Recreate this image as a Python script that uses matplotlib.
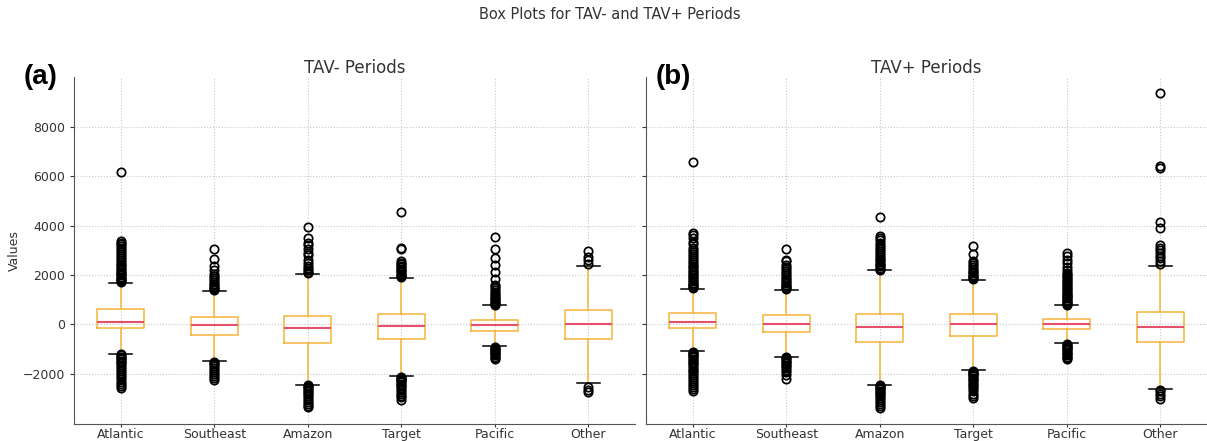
import matplotlib.pyplot as plt

# regions shown on the x axis
regions = ["Atlantic", "Southeast", "Amazon", "Target", "Pacific", "Other"]

# ---- TAV- periods: quartiles, medians, whisker ends ----
neg_q1 = [-134, -430, -766, -605, -269, -605]
neg_med = [108, -27, -134, -81, -40, 0]
neg_q3 = [604, 295, 349, 415, 161, 591]
neg_whislo = [-1182, -1478, -2432, -2083, -874, -2379]
neg_whishi = [1665, 1343, 2042, 1882, 766, 2352]

# outliers per region (TAV-)
neg_fliers = [
    [1700, 1740, 1780, 1830, 1880, 1930, 1980, 2030, 2080, 2140, 2200, 2260,
     2320, 2390, 2460, 2530, 2600, 2680, 2760, 2840, 2920, 3000, 3080, 3160,
     3240, 3310, 3370, 6170,
     -1210, -1250, -1300, -1350, -1400, -1460, -1520, -1580, -1650, -1720,
     -1800, -1880, -1960, -2040, -2130, -2220, -2310, -2400, -2480, -2560],
    [1380, 1420, 1470, 1520, 1580, 1650, 1720, 1800, 1880, 1960, 2050, 2200,
     2350, 2650, 3050,
     -1510, -1560, -1620, -1690, -1760, -1840, -1920, -2000, -2080, -2160,
     -2250],
    [2080, 2130, 2200, 2280, 2380, 2480, 2620, 2820, 2900, 3050, 3200, 3300,
     3480, 3960,
     -2460, -2500, -2540, -2590, -2640, -2700, -2760, -2820, -2890, -2960,
     -3040, -3120, -3200, -3280, -3350],
    [1920, 1960, 2000, 2050, 2100, 2150, 2200, 2260, 2320, 2380, 2440, 2500,
     2550, 3040, 3080, 4550,
     -2110, -2150, -2190, -2240, -2290, -2340, -2390, -2450, -2510, -2570,
     -2640, -2720, -2800, -2880, -2950, -3050],
    [800, 840, 880, 920, 960, 1010, 1060, 1110, 1170, 1230, 1300, 1380, 1460,
     1540, 1610, 1840, 2110, 2390, 2690, 3050, 3540,
     -900, -940, -980, -1020, -1060, -1100, -1150, -1200, -1250, -1300,
     -1360, -1410],
    [2450, 2600, 2730, 2960,
     -2550, -2650, -2750],
]

# ---- TAV+ periods ----
pos_q1 = [-161, -309, -726, -457, -188, -726]
pos_med = [81, 13, -121, 0, 0, -94]
pos_q3 = [470, 376, 430, 430, 202, 511]
pos_whislo = [-1075, -1304, -2433, -1855, -766, -2594]
pos_whishi = [1425, 1397, 2191, 1801, 766, 2379]

# outliers per region (TAV+)
pos_fliers = [
    [1460, 1500, 1540, 1590, 1640, 1690, 1740, 1800, 1860, 1920, 1980, 2040,
     2100, 2170, 2240, 2310, 2380, 2450, 2530, 2610, 2690, 2770, 2850, 2930,
     3010, 3090, 3250, 3340, 3480, 3600, 3710, 6570,
     -1100, -1140, -1180, -1230, -1280, -1330, -1380, -1440, -1500, -1560,
     -1620, -1690, -1760, -1830, -1900, -1970, -2050, -2130, -2210, -2290,
     -2370, -2450, -2530, -2610, -2690],
    [1420, 1460, 1500, 1550, 1600, 1660, 1720, 1780, 1850, 1920, 2000, 2080,
     2160, 2240, 2310, 2400, 2560, 2620, 3050,
     -1330, -1370, -1410, -1460, -1510, -1570, -1630, -1700, -1780, -1850,
     -1920, -2050, -2200],
    [2220, 2260, 2300, 2350, 2400, 2460, 2520, 2590, 2660, 2740, 2820, 2900,
     2980, 3060, 3140, 3220, 3300, 3400, 3500, 3570, 4330,
     -2460, -2500, -2540, -2580, -2630, -2680, -2730, -2790, -2850, -2910,
     -2980, -3050, -3130, -3210, -3300, -3390],
    [1830, 1870, 1910, 1960, 2010, 2060, 2120, 2180, 2250, 2330, 2410, 2500,
     2570, 2840, 3190,
     -1880, -1920, -1960, -2000, -2050, -2100, -2150, -2200, -2260, -2320,
     -2390, -2460, -2540, -2620, -2700, -2800, -2900, -2960],
    [800, 840, 880, 920, 960, 1000, 1050, 1100, 1150, 1200, 1250, 1300, 1360,
     1420, 1480, 1540, 1600, 1660, 1720, 1780, 1840, 1900, 1960, 2020, 2080,
     2200, 2330, 2490, 2620, 2750, 2890,
     -800, -840, -880, -920, -960, -1000, -1050, -1100, -1150, -1200, -1250,
     -1300, -1350, -1410],
    [2430, 2550, 2700, 2760, 2880, 3000, 3100, 3230, 3880, 4130, 6320, 6410,
     9370,
     -2650, -2700, -2800, -2900, -3020],
]

box_color = "#F5B43A"
median_color = "#E4506E"


def make_stats(q1, med, q3, lo, hi, fliers):
    stats = []
    for i in range(len(regions)):
        stats.append({
            "label": regions[i],
            "q1": q1[i], "med": med[i], "q3": q3[i],
            "whislo": lo[i], "whishi": hi[i],
            "fliers": fliers[i],
        })
    return stats


def draw_panel(ax, stats, title, tag):
    ax.bxp(stats, showfliers=True,
           boxprops=dict(color=box_color, linewidth=1.1),
           whiskerprops=dict(color=box_color, linewidth=1.1),
           capprops=dict(color="black", linewidth=1.1),
           medianprops=dict(color=median_color, linewidth=1.5),
           flierprops=dict(marker="o", markerfacecolor="none",
                           markeredgecolor="black", markersize=6,
                           markeredgewidth=1.25))
    ax.set_title(title, fontsize=12, color="#333333", pad=3)
    ax.grid(True, linestyle=":", color="#c8c8c8", linewidth=0.8)
    ax.set_axisbelow(True)
    for side in ["top", "right"]:
        ax.spines[side].set_visible(False)
    for side in ["left", "bottom"]:
        ax.spines[side].set_color("#555555")
    ax.tick_params(axis="y", labelsize=9, colors="#333333", length=3)
    ax.tick_params(axis="x", labelsize=9, colors="#333333", length=2, pad=1)
    ax.text(-0.09 if tag == "(a)" else 0.018, 1.0, tag,
            transform=ax.transAxes, fontsize=20, fontweight="bold",
            family="Liberation Sans", va="center", ha="left")


fig = plt.figure(figsize=(12.07, 4.41), dpi=100)
ax1 = fig.add_axes([0.0613, 0.0385, 0.4648, 0.787])
ax2 = fig.add_axes([0.5352, 0.0385, 0.4648, 0.787], sharey=ax1)

draw_panel(ax1, make_stats(neg_q1, neg_med, neg_q3, neg_whislo, neg_whishi,
                           neg_fliers), "TAV- Periods", "(a)")
draw_panel(ax2, make_stats(pos_q1, pos_med, pos_q3, pos_whislo, pos_whishi,
                           pos_fliers), "TAV+ Periods", "(b)")
plt.setp(ax2.get_yticklabels(), visible=False)

ax1.set_ylabel("Values", fontsize=9, color="#333333", labelpad=1)
ax1.set_yticks([-2000, 0, 2000, 4000, 6000, 8000])

fig.suptitle("Box Plots for TAV- and TAV+ Periods", fontsize=10.5,
             color="#333333", x=0.505, y=0.985)

fig.savefig("out.png", dpi=100)
